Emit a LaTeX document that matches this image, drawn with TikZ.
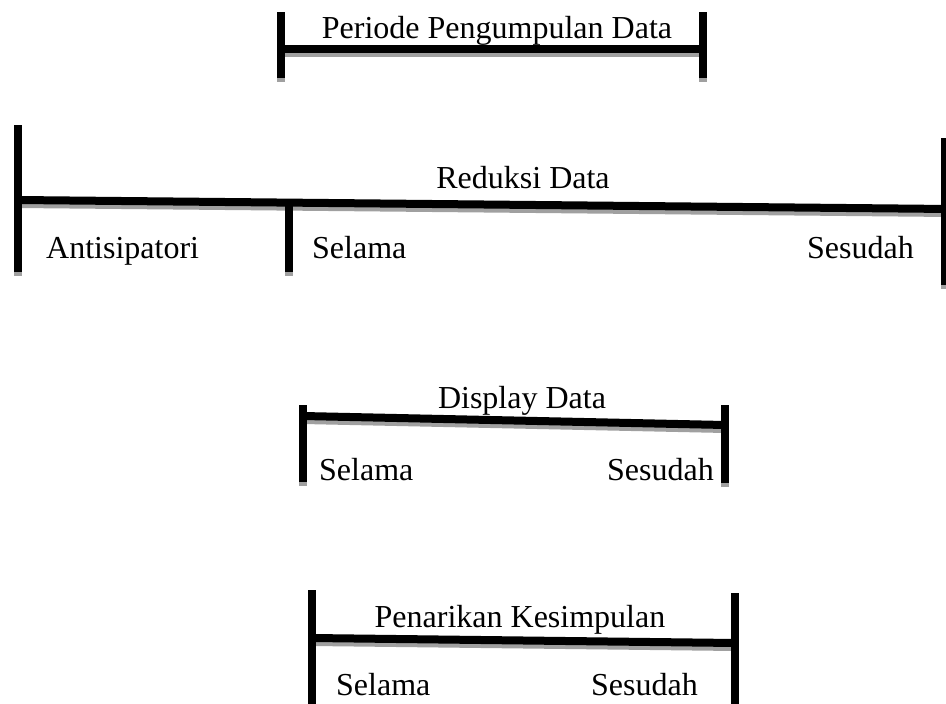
\documentclass[tikz,border=0pt]{standalone}
\usepackage{fontspec}
\setmainfont{Liberation Serif}
\usetikzlibrary{positioning}
\definecolor{shadowgray}{RGB}{160,160,160}

\tikzset{
  bar/.style={line width=8pt},
  barshadow/.style={line width=8pt, shadowgray},
  lbl/.style={inner sep=0pt, font=\fontsize{32}{38}\selectfont},
}

\begin{document}
\begin{tikzpicture}[x=1pt, y=-1pt]
  \useasboundingbox (0,0) rectangle (946,704);
  \clip (0,0) rectangle (946,704);

  % periode pengumpulan data
  \coordinate (pA) at (281,12);  \coordinate (pB) at (281,78);
  \coordinate (pC) at (703,12);  \coordinate (pD) at (703,78);
  \coordinate (pL) at (281,49);  \coordinate (pR) at (703,49);
  % reduksi data
  \coordinate (rA) at (18,125);  \coordinate (rB) at (18,272);
  \coordinate (rL) at (18,200);  \coordinate (rR) at (950,209);
  \coordinate (rM) at (289,203); \coordinate (rN) at (289,272);
  \coordinate (rC) at (945,138); \coordinate (rD) at (945,285);
  % display data
  \coordinate (dA) at (303,405); \coordinate (dB) at (303,482);
  \coordinate (dC) at (725,405); \coordinate (dD) at (725,483);
  \coordinate (dL) at (303,416); \coordinate (dR) at (725,425);
  % penarikan kesimpulan
  \coordinate (kA) at (312,590); \coordinate (kB) at (312,710);
  \coordinate (kC) at (735,593); \coordinate (kD) at (735,710);
  \coordinate (kL) at (312,638); \coordinate (kR) at (735,643);

  \foreach \a/\b in {pA/pB, pC/pD, pL/pR, rA/rB, rL/rR, rM/rN, rC/rD,
                     dA/dB, dC/dD, dL/dR, kA/kB, kC/kD, kL/kR}
    \draw[barshadow] ([yshift=-4pt]\a) -- ([yshift=-4pt]\b);
  \foreach \a/\b in {pA/pB, pC/pD, pL/pR, rA/rB, rL/rR, rM/rN, rC/rD,
                     dA/dB, dC/dD, dL/dR, kA/kB, kC/kD, kL/kR}
    \draw[bar] (\a) -- (\b);

  \node[lbl, anchor=base] (periode) at (497,38) {Periode Pengumpulan Data};
  \node[lbl, anchor=base] (reduksi) at (523,188) {Reduksi Data};
  \node[lbl, anchor=base west] (antisipatori) at (46,258) {Antisipatori};
  \node[lbl, anchor=base west] (rselama) at (312,258) {Selama};
  \node[lbl, anchor=base east] (rsesudah) at (914,258) {Sesudah};
  \node[lbl, anchor=base] (display) at (522,408) {Display Data};
  \node[lbl, anchor=base west] (dselama) at (319,480) {Selama};
  \node[lbl, anchor=base east] (dsesudah) at (714,480) {Sesudah};
  \node[lbl, anchor=base] (penarikan) at (520,627) {Penarikan Kesimpulan};
  \node[lbl, anchor=base west] (kselama) at (336,695) {Selama};
  \node[lbl, anchor=base east] (ksesudah) at (698,695) {Sesudah};
\end{tikzpicture}
\end{document}
